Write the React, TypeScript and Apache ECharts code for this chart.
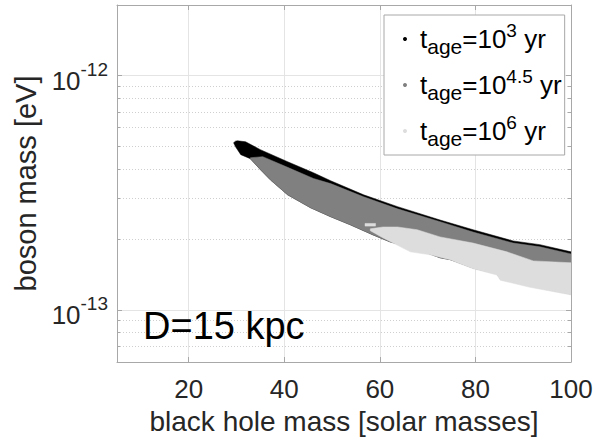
import React, { useEffect, useRef } from "react";
import * as echarts from "echarts";

const FONT = "Liberation Sans";

// axis ticks
const xTicks = [20, 40, 60, 80, 100];
const yMajor = [1e-13, 1e-12];
const yMinor = [7e-14, 8e-14, 9e-14, 2e-13, 3e-13, 4e-13, 5e-13, 6e-13, 7e-13, 8e-13, 9e-13];

// legend / series
const ageExponents = ["3", "4.5", "6"];
const seriesNames = ageExponents.map((e) => `t_age=10^${e} yr`);
const seriesColors = ["#000000", "#808080", "#dddddd"];

// region outlines: [black hole mass (solar masses), boson mass (eV)]
const region1e3: [number, number][] = [
  [29.4, 5.17e-13], [29.8, 5.25e-13], [30.2, 5.27e-13], [31.9, 5.22e-13], [35.0, 4.83e-13],
  [40.7, 4.29e-13], [46.1, 3.85e-13], [49.7, 3.56e-13], [56.6, 3.10e-13], [63.7, 2.76e-13],
  [72.6, 2.42e-13], [79.5, 2.20e-13], [87.9, 1.97e-13], [93.5, 1.90e-13], [100, 1.77e-13],
  [100, 1.17e-13], [91.4, 1.27e-13], [85.2, 1.36e-13], [84.5, 1.43e-13], [79.5, 1.51e-13],
  [76.2, 1.60e-13], [74.7, 1.64e-13], [72.6, 1.67e-13], [67.0, 1.84e-13], [62.2, 1.95e-13],
  [58.6, 2.09e-13], [53.8, 2.31e-13], [49.7, 2.50e-13], [45.5, 2.73e-13], [40.7, 3.10e-13],
  [37.1, 3.59e-13], [35.0, 3.97e-13], [32.9, 4.42e-13], [30.9, 4.60e-13], [29.8, 4.97e-13],
];

const region1e45: [number, number][] = [
  [32.9, 4.46e-13], [35.5, 4.51e-13], [40.7, 4.06e-13], [46.1, 3.64e-13], [49.7, 3.46e-13],
  [56.6, 3.04e-13], [63.7, 2.70e-13], [72.6, 2.38e-13], [79.5, 2.15e-13], [87.9, 1.93e-13],
  [93.5, 1.86e-13], [100, 1.735e-13],
  [100, 1.17e-13], [91.4, 1.27e-13], [85.2, 1.36e-13], [84.5, 1.43e-13], [79.5, 1.51e-13],
  [76.2, 1.60e-13], [74.7, 1.64e-13], [72.6, 1.67e-13], [67.0, 1.84e-13], [62.2, 1.95e-13],
  [58.6, 2.09e-13], [53.8, 2.31e-13], [49.7, 2.50e-13], [45.5, 2.73e-13], [40.7, 3.10e-13],
  [37.1, 3.59e-13], [35.0, 3.97e-13], [32.9, 4.42e-13],
];

const region1e6: [number, number][] = [
  [58.0, 2.22e-13], [60.7, 2.26e-13], [63.7, 2.26e-13], [67.8, 2.20e-13], [72.6, 2.05e-13],
  [79.5, 1.93e-13], [86.6, 1.77e-13], [92.1, 1.62e-13], [100, 1.59e-13],
  [100, 1.16e-13], [91.4, 1.25e-13], [85.2, 1.34e-13], [84.5, 1.41e-13], [79.5, 1.50e-13],
  [76.2, 1.59e-13], [74.7, 1.64e-13], [70.5, 1.72e-13], [66.4, 1.77e-13], [60.7, 2.03e-13],
  [58.0, 2.18e-13],
];
const patch1e6: [number, number][] = [
  [56.9, 2.34e-13], [59.1, 2.34e-13], [59.1, 2.28e-13], [56.9, 2.28e-13],
];

const regions: [number, number][][][] = [[region1e3], [region1e45], [region1e6, patch1e6]];

const AXIS_COLOR = "#a8a8a8";
const TEXT_COLOR = "#262626";

function polySeries(name: string, color: string, polys: [number, number][][]) {
  return {
    type: "custom",
    name,
    coordinateSystem: "cartesian2d",
    xAxisIndex: 0,
    yAxisIndex: 0,
    clip: true,
    itemStyle: { color },
    data: polys.map((p) => p[0]),
    renderItem: (params: any, api: any) => {
      const poly = polys[params.dataIndex];
      return {
        type: "polygon",
        shape: { points: poly.map((p) => api.coord(p)) },
        style: { fill: color, stroke: color, lineWidth: 0.5 },
      };
    },
  };
}

function yAxisBase(position: string) {
  return {
    type: "log",
    logBase: 10,
    min: 6e-14,
    max: 2e-12,
    position,
    axisLine: { show: false },
    axisTick: { show: false },
    axisLabel: { show: false },
    splitLine: { show: false },
  };
}

export default function App() {
  const ref = useRef<HTMLDivElement>(null);
  useEffect(() => {
    if (!ref.current) return;
    const chart = echarts.init(ref.current, undefined, { renderer: "svg" });
    const option: any = {
      animation: false,
      backgroundColor: "#ffffff",
      grid: { left: 117, right: 23, top: 5, bottom: 75, containLabel: false, outerBoundsMode: "none" },
      xAxis: [
        {
          type: "value",
          min: 5,
          max: 100,
          position: "bottom",
          axisLine: { show: true, onZero: false, lineStyle: { color: AXIS_COLOR, width: 1 } },
          axisTick: { show: true, inside: true, length: 5, customValues: xTicks, lineStyle: { color: AXIS_COLOR } },
          axisLabel: { customValues: xTicks, margin: 14, fontSize: 26, color: TEXT_COLOR, fontFamily: FONT },
          splitLine: { show: true, lineStyle: { color: "#e4e4e4", width: 1 } },
          name: "black hole mass [solar masses]",
          nameLocation: "middle",
          nameGap: 45,
          nameTextStyle: { fontSize: 28, lineHeight: 28, color: TEXT_COLOR, fontFamily: FONT },
        },
        {
          type: "value",
          min: 5,
          max: 100,
          position: "top",
          axisLine: { show: true, onZero: false, lineStyle: { color: AXIS_COLOR, width: 1 } },
          axisTick: { show: true, inside: true, length: 5, customValues: xTicks, lineStyle: { color: AXIS_COLOR } },
          axisLabel: { show: false },
          splitLine: { show: false },
        },
      ],
      yAxis: [
        {
          ...yAxisBase("left"),
          axisLine: { show: true, onZero: false, lineStyle: { color: AXIS_COLOR, width: 1 } },
          axisTick: { show: true, inside: true, length: 5, customValues: yMajor, lineStyle: { color: AXIS_COLOR } },
          axisLabel: {
            show: true,
            customValues: yMajor,
            margin: 9,
            formatter: (v: number) => `{b|10}{s|${Math.round(Math.log10(v))}}`,
            rich: {
              b: { fontSize: 26, color: TEXT_COLOR, fontFamily: FONT, padding: [10, 0, 0, 0] },
              s: { fontSize: 19, color: TEXT_COLOR, fontFamily: FONT, verticalAlign: "top", padding: [2, 0, 0, 0] },
            },
          },
          splitLine: { show: true, lineStyle: { color: "#e4e4e4", width: 1 } },
          name: "boson mass [eV]",
          nameLocation: "middle",
          nameGap: 76,
          nameTextStyle: { fontSize: 29, color: TEXT_COLOR, fontFamily: FONT },
        },
        {
          ...yAxisBase("left"),
          axisTick: { show: true, inside: true, length: 3, customValues: yMinor, lineStyle: { color: AXIS_COLOR } },
          splitLine: { show: true, lineStyle: { color: "#cfcfcf", width: 1, type: [1, 2] } },
        },
        {
          ...yAxisBase("right"),
          axisLine: { show: true, onZero: false, lineStyle: { color: AXIS_COLOR, width: 1 } },
          axisTick: { show: true, inside: true, length: 5, customValues: yMajor, lineStyle: { color: AXIS_COLOR } },
        },
        {
          ...yAxisBase("right"),
          axisTick: { show: true, inside: true, length: 3, customValues: yMinor, lineStyle: { color: AXIS_COLOR } },
        },
      ],
      legend: {
        data: seriesNames,
        orient: "vertical",
        left: 384,
        top: 15,
        padding: [6, 3, 6, 19],
        itemGap: 10,
        backgroundColor: "#ffffff",
        borderColor: "#a8a8a8",
        borderWidth: 1,
        icon: "circle",
        itemWidth: 20,
        itemHeight: 4,
        selectedMode: false,
        formatter: (name: string) => {
          const e = ageExponents[seriesNames.indexOf(name)];
          return `{t|t}{sub|age}{t|=10}{sup|${e}}{t| yr}`;
        },
        textStyle: {
          rich: {
            t: { fontSize: 26, lineHeight: 36, color: "#000", fontFamily: FONT },
            sub: { fontSize: 21, lineHeight: 19, color: "#000", fontFamily: FONT, verticalAlign: "bottom" },
            sup: { fontSize: 19, lineHeight: 18, color: "#000", fontFamily: FONT, verticalAlign: "top" },
          },
        },
      },
      graphic: [
        {
          type: "text",
          left: 143,
          top: 307,
          style: { text: "D=15 kpc", fontSize: 38, fontFamily: FONT, fill: "#000" },
          z: 100,
        },
      ],
      series: seriesNames.map((n, i) => polySeries(n, seriesColors[i], regions[i])),
    };
    chart.setOption(option);
    return () => chart.dispose();
  }, []);
  return (
    <div
      ref={ref}
      style={{ position: "fixed", left: 0, top: 0, width: 594, height: 437, background: "#fff" }}
    />
  );
}
